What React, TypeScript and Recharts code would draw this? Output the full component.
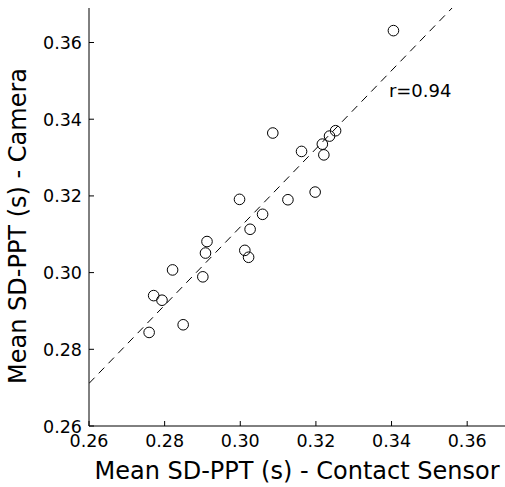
import {
  ScatterChart,
  Scatter,
  XAxis,
  YAxis,
  ReferenceLine,
  ReferenceDot,
} from "recharts";

// contact sensor (x) vs camera (y), mean SD-PPT in seconds
const contactSensor = [
  0.3405, 0.3086, 0.3162, 0.3217, 0.3221, 0.3236, 0.3252, 0.2998, 0.3126,
  0.3198, 0.3059, 0.3026, 0.3012, 0.3022, 0.2912, 0.2908, 0.2821, 0.2901,
  0.2771, 0.2793, 0.2849, 0.2759,
];
const camera = [
  0.3631, 0.3364, 0.3316, 0.3335, 0.3307, 0.3356, 0.337, 0.3191, 0.319,
  0.321, 0.3152, 0.3113, 0.3058, 0.304, 0.3081, 0.3051, 0.3007, 0.2989,
  0.294, 0.2928, 0.2864, 0.2844,
];
const ticks = [0.26, 0.28, 0.3, 0.32, 0.34, 0.36];
const fitLine = [
  { x: 0.26, y: 0.2711 },
  { x: 0.356, y: 0.369 },
];
const rLabel = "r=0.94";

const data = contactSensor.map((x, i) => ({ x, y: camera[i] }));

const FONT = "DejaVu Sans, sans-serif";

const XTick = (props: any) => {
  const { x, y, payload } = props;
  return (
    <g>
      <line x1={x} y1={y} x2={x} y2={y - 5} stroke="#000" />
      <text x={x} y={y + 21} textAnchor="middle" fontSize={17.5} fontFamily={FONT} fill="#000">
        {payload.value.toFixed(2)}
      </text>
    </g>
  );
};

const YTick = (props: any) => {
  const { x, y, payload } = props;
  return (
    <g>
      <line x1={x} y1={y} x2={x + 5} y2={y} stroke="#000" />
      <text x={x - 7} y={y + 6.5} textAnchor="end" fontSize={17.5} fontFamily={FONT} fill="#000">
        {payload.value.toFixed(2)}
      </text>
    </g>
  );
};

const XLabel = () => (
  <text x={297} y={479} textAnchor="middle" fontSize={24} fontFamily={FONT} fill="#000">
    Mean SD-PPT (s) - Contact Sensor
  </text>
);

const YLabel = () => (
  <text
    transform="translate(26,226) rotate(-90)"
    textAnchor="middle"
    fontSize={24}
    fontFamily={FONT}
    fill="#000"
  >
    Mean SD-PPT (s) - Camera
  </text>
);

const Ring = (props: any) => (
  <circle cx={props.cx} cy={props.cy} r={5.3} fill="none" stroke="#000" strokeWidth={1} />
);

export default function App() {
  return (
    <div style={{ position: "absolute", left: 0, top: 0, background: "#fff" }}>
      <ScatterChart
        width={505}
        height={487}
        margin={{ top: 8, right: 0, left: 0, bottom: 0 }}
      >
        <XAxis
          type="number"
          dataKey="x"
          domain={[0.26, 0.37]}
          ticks={ticks}
          height={61}
          tickSize={0}
          tickMargin={0}
          tickLine={false}
          tick={<XTick />}
          axisLine={{ stroke: "#000" }}
          label={<XLabel />}
        />
        <YAxis
          type="number"
          dataKey="y"
          domain={[0.26, 0.369]}
          ticks={ticks}
          width={89}
          tickSize={0}
          tickMargin={0}
          tickLine={false}
          tick={<YTick />}
          axisLine={{ stroke: "#000" }}
          label={<YLabel />}
        />
        <ReferenceLine
          segment={fitLine}
          stroke="#000"
          strokeWidth={1}
          strokeDasharray="8 6"
          ifOverflow="hidden"
        />
        <Scatter data={data} shape={<Ring />} isAnimationActive={false} />
        <ReferenceDot
          x={0.3393}
          y={0.3474}
          r={0}
          fill="none"
          stroke="none"
          label={{
            value: rLabel,
            position: "right",
            offset: 0,
            fontSize: 18,
            fontFamily: FONT,
            fill: "#000",
          }}
        />
      </ScatterChart>
    </div>
  );
}
